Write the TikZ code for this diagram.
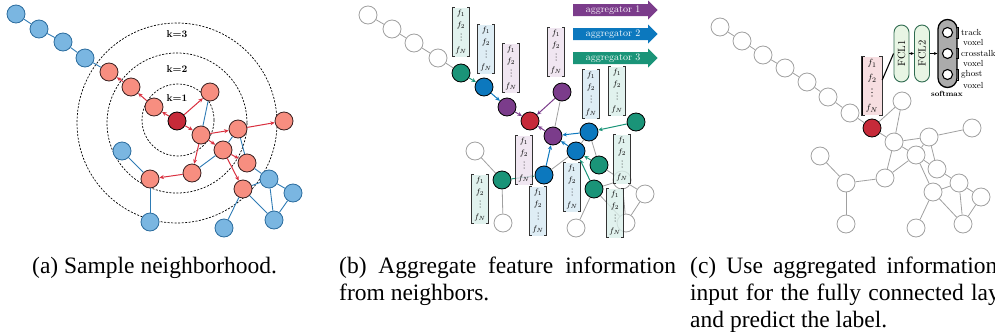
\documentclass[tikz,border=0pt]{standalone}
\usepackage{fontspec}
\usepackage{graphicx}
\newfontfamily\capfont{Liberation Serif}
\usetikzlibrary{arrows.meta}
\definecolor{nblue}{HTML}{7AB6E1}
\definecolor{nblueb}{HTML}{2B6C9E}
\definecolor{eblue}{HTML}{2E7BB4}
\definecolor{nred}{HTML}{F78E80}
\definecolor{nredb}{HTML}{3A2020}
\definecolor{cred}{HTML}{C62A39}
\definecolor{ered}{HTML}{D9303F}
\definecolor{gteal}{HTML}{1A9478}
\definecolor{gblue}{HTML}{0C78BE}
\definecolor{gpurple}{HTML}{7B3C8B}
\definecolor{lteal}{HTML}{DAEFEA}
\definecolor{lblue}{HTML}{D6E8F3}
\definecolor{lpurple}{HTML}{ECE0ED}
\definecolor{lpink}{HTML}{F7DEE1}
\definecolor{ggray}{HTML}{A0A0A0}
\definecolor{fclfill}{HTML}{E8F5E4}
\definecolor{fcldraw}{HTML}{2F6B50}
\definecolor{smgray}{HTML}{ABABAB}
\tikzset{
 gnode/.style={circle,minimum size=18pt,inner sep=0pt,line width=0.8pt},
 bnode/.style={gnode,fill=nblue,draw=nblueb},
 rnode/.style={gnode,fill=nred,draw=nredb},
 cnode/.style={gnode,fill=cred,draw=black},
 wnode/.style={gnode,fill=white,draw=ggray},
 tnode/.style={gnode,fill=gteal,draw=black},
 unode/.style={gnode,fill=gblue,draw=black},
 pnode/.style={gnode,fill=gpurple,draw=black},
 bedge/.style={draw=eblue,line width=0.9pt},
 gedge/.style={draw=ggray,line width=0.8pt},
 tipstyle/.style={-{Stealth[length=4.5pt,width=4pt]}},
 redarr/.style={tipstyle,draw=ered,line width=1pt},
 carr/.style={tipstyle,draw=#1,line width=1pt},
 kcirc/.style={draw=black,dash pattern=on 2pt off 1.5pt,line width=0.7pt},
 klab/.style={font=\bfseries\fontsize{10}{12}\selectfont,inner sep=0pt},
 fvec/.style={rectangle,fill=#1,fill opacity=0.8,text opacity=1,minimum width=17pt,minimum height=49pt,inner sep=0pt,align=center,font=\fontsize{8}{12.3}\selectfont},
 brk/.style={draw=black!80,line width=0.8pt},
 aggtext/.style={text=white,font=\fontsize{10}{12}\selectfont,inner sep=0pt},
 capt/.style={font=\capfont\fontsize{23.5}{27}\selectfont,inner sep=0pt,anchor=base west},
 fcl/.style={rectangle,rounded corners=7.5pt,minimum width=57pt,minimum height=15pt,inner sep=0pt,fill=fclfill,draw=fcldraw,line width=0.9pt,font=\fontsize{10.5}{12}\selectfont,rotate=90},
 smx/.style={rectangle,rounded corners=9.5pt,minimum width=19pt,minimum height=68pt,inner sep=0pt,fill=smgray,draw=black,line width=1.3pt},
 smc/.style={circle,minimum size=10pt,inner sep=0pt,fill=white,draw=black,line width=1.1pt},
 sarr/.style={-{Stealth[length=3.5pt,width=3pt]},line width=0.8pt},
 vlab/.style={font=\fontsize{8.8}{10}\selectfont,inner sep=0pt,anchor=west},
}
\begin{document}
\begin{tikzpicture}[x=1pt,y=-1pt]
\useasboundingbox (0,0) rectangle (995,335);
\clip (0,0) rectangle (995,335);

% ---------------- panel (a)
\draw[kcirc] (177,123) circle (100);
\draw[kcirc] (177,123) circle (70);
\draw[kcirc] (178,120) circle (36);
\node[klab] (k3) at (177,34) {k=3};
\node[klab] (k2) at (177,69) {k=2};
\node[klab] (k1) at (177,98) {k=1};

\node[bnode] (a-A1) at (16,14) {};
\node[bnode] (a-A2) at (39,29) {};
\node[bnode] (a-A3) at (63,42) {};
\node[bnode] (a-A4) at (85,58) {};
\node[rnode] (a-R1) at (109,72) {};
\node[rnode] (a-R2) at (131,87) {};
\node[rnode] (a-R3) at (154,107) {};
\node[cnode] (a-C) at (177,121) {};
\node[rnode] (a-N1) at (210,92) {};
\node[rnode] (a-N2) at (201,135) {};
\node[rnode] (a-N3) at (238,129) {};
\node[rnode] (a-N4) at (284,121) {};
\node[rnode] (a-N5) at (223,150) {};
\node[rnode] (a-N6) at (247,163) {};
\node[rnode] (a-N7) at (192,173) {};
\node[rnode] (a-N8) at (150,179) {};
\node[rnode] (a-N9) at (243,189) {};
\node[bnode] (a-B1) at (122,151) {};
\node[bnode] (a-B2) at (150,222) {};
\node[bnode] (a-B3) at (224,228) {};
\node[bnode] (a-B4) at (269,179) {};
\node[bnode] (a-B5) at (293,193) {};
\node[bnode] (a-B6) at (274,220) {};
\foreach \u/\v in {A1/A2,A2/A3,A3/A4,A4/R1,N1/N2,N3/N5,N3/N6,N5/N7,N8/B1,N8/B2,N9/B3,N9/B4,N6/B4,N9/B6,B4/B5,B4/B6,B5/B6}
  \draw[bedge] (a-\u) -- (a-\v);
\foreach \u/\v in {R2/R1,R3/R2,C/R3,C/N1,C/N2,N2/N3,N2/N5,N2/N7,N3/N4,N5/N6,N5/N9,N7/N8}
  \draw[redarr] (a-\u) -- (a-\v);

% ---------------- panel (b)
\node[wnode] (b-A1) at (368,15) {};
\node[wnode] (b-A2) at (392,29) {};
\node[wnode] (b-A3) at (414,43) {};
\node[wnode] (b-A4) at (438,58) {};
\node[tnode] (b-R1) at (461,73) {};
\node[unode] (b-R2) at (484,87) {};
\node[pnode] (b-R3) at (507,107) {};
\node[cnode] (b-C) at (530,121) {};
\node[pnode] (b-N1) at (562,92) {};
\node[pnode] (b-N2) at (553,136) {};
\node[unode] (b-N3) at (589,132) {};
\node[tnode] (b-N4) at (636,122) {};
\node[unode] (b-N5) at (576,151) {};
\node[tnode] (b-N6) at (599,165) {};
\node[unode] (b-N7) at (544,175) {};
\node[tnode] (b-N8) at (502,180) {};
\node[tnode] (b-N9) at (594,189) {};
\node[wnode] (b-B1) at (475,151) {};
\node[wnode] (b-B2) at (503,223) {};
\node[wnode] (b-B3) at (576,228) {};
\node[wnode] (b-B4) at (622,180) {};
\node[wnode] (b-B5) at (645,194) {};
\node[wnode] (b-B6) at (626,223) {};
\foreach \u/\v in {A1/A2,A2/A3,A3/A4,A4/R1,N1/N2,N3/N5,N3/N6,N5/N7,N8/B1,N8/B2,N9/B3,N9/B4,N6/B4,N9/B6,B4/B5,B4/B6,B5/B6}
  \draw[gedge] (b-\u) -- (b-\v);
\foreach \u/\v/\c in {R1/R2/gteal,R2/R3/gblue,R3/C/gpurple,N1/C/gpurple,N2/C/gpurple,N3/N2/gblue,N5/N2/gblue,N7/N2/gblue,N4/N3/gteal,N6/N5/gteal,N9/N5/gteal,N8/N7/gteal}
  \draw[carr=\c] (b-\u) -- (b-\v);

\foreach \i/\x/\y/\c in {1/461/32/lteal,2/486/49/lblue,3/511/68/lpurple,4/556/52/lpurple,5/591/94/lblue,6/617/91/lteal,7/524/160/lpurple,8/622/159/lteal,9/572/187/lblue,10/480/199/lteal,11/538/211/lblue,12/615/213/lteal}{
  \node[fvec=\c] (vb\i) at (\x,\y) {$f_1$\\$f_2$\\\mbox{}\\$f_N$};
  \foreach \dd in {2,5,8} \fill ([yshift=-\dd pt]vb\i.center) circle (0.5);
  \draw[brk] ([xshift=2.5pt]vb\i.north west) -- (vb\i.north west) -- (vb\i.south west) -- ([xshift=2.5pt]vb\i.south west);
  \draw[brk] ([xshift=-2.5pt]vb\i.north east) -- (vb\i.north east) -- (vb\i.south east) -- ([xshift=-2.5pt]vb\i.south east);
}

\foreach \yy/\cc/\nn in {10/gpurple/1,34/gblue/2,58/gteal/3}{
  \fill[\cc] (573,{\yy-6}) -- (648,{\yy-6}) -- (648,{\yy-9.5}) -- (657.5,\yy) -- (648,{\yy+9.5}) -- (648,{\yy+6}) -- (573,{\yy+6}) -- cycle;
  \node[aggtext] (agg\nn) at (613,\yy) {aggregator \nn};
}

% ---------------- panel (c)
\node[wnode] (c-A1) at (720,27) {};
\node[wnode] (c-A2) at (742,41) {};
\node[wnode] (c-A3) at (763,55) {};
\node[wnode] (c-A4) at (785,68) {};
\node[wnode] (c-R1) at (807,82) {};
\node[wnode] (c-R2) at (828,97) {};
\node[wnode] (c-R3) at (850,113) {};
\node[cnode] (c-C) at (872,128) {};
\node[wnode] (c-N1) at (902,101) {};
\node[wnode] (c-N2) at (894,142) {};
\node[wnode] (c-N3) at (929,137) {};
\node[wnode] (c-N4) at (972,128) {};
\node[wnode] (c-N5) at (916,155) {};
\node[wnode] (c-N6) at (937,169) {};
\node[wnode] (c-N7) at (885,178) {};
\node[wnode] (c-N8) at (846,183) {};
\node[wnode] (c-N9) at (933,192) {};
\node[wnode] (c-B1) at (820,156) {};
\node[wnode] (c-B2) at (846,224) {};
\node[wnode] (c-B3) at (916,228) {};
\node[wnode] (c-B4) at (959,183) {};
\node[wnode] (c-B5) at (981,197) {};
\node[wnode] (c-B6) at (963,224) {};
\foreach \u/\v in {A1/A2,A2/A3,A3/A4,A4/R1,R1/R2,R2/R3,R3/C,C/N1,C/N2,N1/N2,N2/N3,N2/N5,N2/N7,N3/N4,N3/N5,N3/N6,N5/N6,N5/N9,N5/N7,N7/N8,N8/B1,N8/B2,N9/B3,N9/B4,N6/B4,N9/B6,B4/B5,B4/B6,B5/B6}
  \draw[gedge] (c-\u) -- (c-\v);

\node[rectangle,fill=lpink,minimum width=20pt,minimum height=58pt,inner sep=0pt,align=center,font=\fontsize{9.5}{15}\selectfont] (vc) at (872,86) {$f_1$\\$f_2$\\\mbox{}\\$f_N$};
\foreach \dd in {3,6.5,10} \fill ([yshift=-\dd pt]vc.center) circle (0.6);
\draw[draw=black,line width=2.2pt] (vc.north west) -- (vc.south west);
\draw[brk] ([xshift=3pt]vc.north west) -- (vc.north west) -- (vc.south west) -- ([xshift=3pt]vc.south west);
\draw[brk] ([xshift=-3pt]vc.north east) -- (vc.north east) -- (vc.south east) -- ([xshift=-3pt]vc.south east);

\node[fcl] (fc1) at (901.5,53.5) {FCL1};
\node[fcl] (fc2) at (922,53.5) {FCL2};
\node[smx] (sm) at (947.5,53.5) {};
\node[smc] (s1) at (947.5,32.5) {};
\node[smc] (s2) at (947.5,53.5) {};
\node[smc] (s3) at (947.5,74.5) {};
\draw[line width=1.1pt] ([yshift=6pt]vc.east) -- (fc1.north);
\draw[sarr] (fc1) -- (fc2);
\draw[sarr] (fc2) -- (sm);
\node[font=\bfseries\fontsize{7.5}{9}\selectfont,inner sep=0pt] (smlab) at (947,94) {softmax};

\foreach \ya/\yb in {27/38,48/58,69/80}
  \draw[line width=0.7pt] (956,\ya) -- (958.5,\ya) -- (958.5,\yb) -- (956,\yb);
\node[vlab] (t1) at (961,32) {track};
\node[vlab] (t2) at (963,42) {voxel};
\node[vlab] (t3) at (961,53) {crosstalk};
\node[vlab] (t4) at (963,63) {voxel};
\node[vlab] (t5) at (961,74) {ghost};
\node[vlab] (t6) at (963,85) {voxel};

% ---------------- captions
\node[capt] (capa) at (32,273) {(a) Sample neighborhood.};
\node[capt] (capb1) at (339,273) {\makebox[337pt][s]{(b) Aggregate feature information}};
\node[capt] (capb2) at (339,300) {from neighbors.};
\node[capt] (capc1) at (690,273) {\makebox[337pt][s]{(c) Use aggregated information as}};
\node[capt] (capc2) at (690,300) {\makebox[337pt][s]{input for the fully connected layers}};
\node[capt] (capc3) at (690,327) {and predict the label.};
\end{tikzpicture}
\end{document}
